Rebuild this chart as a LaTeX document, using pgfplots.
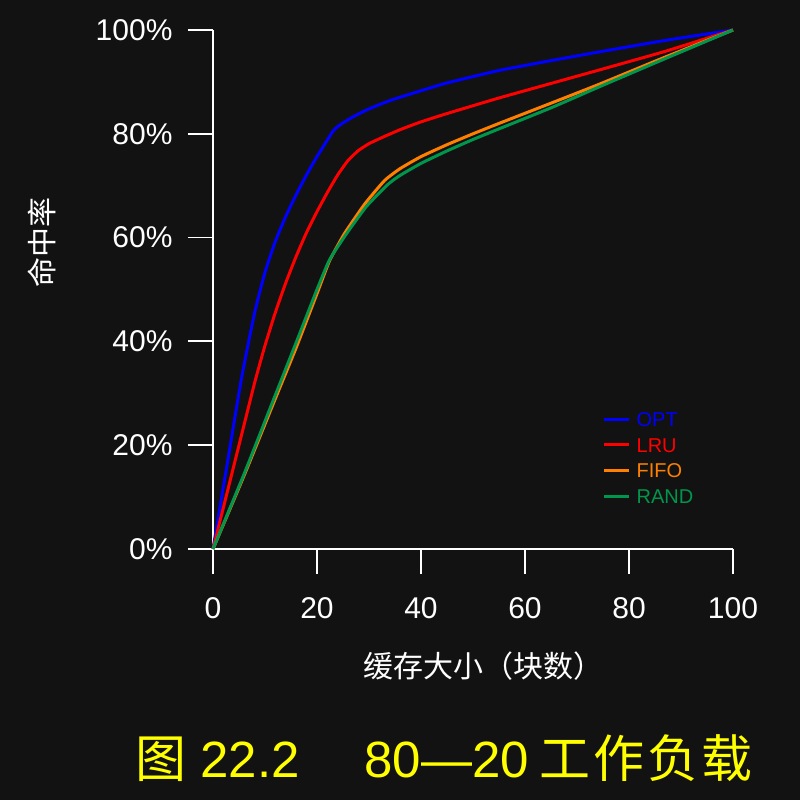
\documentclass[border=0pt]{standalone}
\usepackage{fontspec}
\setmainfont{Liberation Sans}
\newfontfamily\cjk{Noto Sans CJK SC}
\usepackage{pgfplots}
\pgfplotsset{compat=1.18}
\definecolor{bg}{RGB}{18,18,18}
\definecolor{optc}{RGB}{0,0,255}
\definecolor{lruc}{RGB}{255,0,0}
\definecolor{fifoc}{RGB}{255,128,0}
\definecolor{randc}{RGB}{0,150,75}
\definecolor{titc}{RGB}{255,255,0}
\begin{document}
\begin{tikzpicture}
\path[use as bounding box, fill=bg] (0,0) rectangle (800pt,800pt);
\begin{axis}[
  at={(213pt,251pt)}, anchor=south west,
  scale only axis, width=520pt, height=519pt,
  xmin=0, xmax=100, ymin=0, ymax=100,
  axis lines*=left,
  axis line style={white, line width=1.8pt},
  tick style={white, line width=1.8pt},
  tick align=outside, major tick length=25pt,
  xtick={0,20,...,100}, ytick={0,20,...,100},
  yticklabel={\pgfmathprintnumber{\tick}\%},
  /pgf/number format/assume math mode=true,
  tick label style={white, font=\fontsize{30}{30}\selectfont},
  xticklabel style={yshift=-20pt},
  yticklabel style={xshift=-12pt},
  xlabel={\cjk 缓存大小（块数）},
  xlabel style={at={(axis description cs:0.52,-0.2254)}, anchor=center, white, font=\fontsize{30}{30}\selectfont},
  ylabel={\cjk 命中率},
  ylabel style={at={(axis description cs:-0.3288,0.5896)}, anchor=center, white, font=\fontsize{30}{30}\selectfont},
  clip=false,
  legend style={at={(axis cs:74.8,26.43)}, anchor=north west, draw=none, fill=none, inner sep=0pt,
    font=\fontsize{20}{20}\selectfont, row sep=11.5pt,
    nodes={inner sep=0pt, text height=14.3pt, text depth=0pt},
    /tikz/every odd column/.append style={column sep=6.5pt}},
  legend cell align=left,
  legend image code/.code={\draw[#1, line width=3pt] (0pt,0pt) -- (25pt,0pt);},
]
\addplot[optc, line width=3pt, smooth, tension=0.3] coordinates {
(0,0) (3,18) (5.5,33) (8,45.5) (10,53.3) (12,59.3) (14,64.1) (16,68.3) (18,72.1) (20,75.6) (23,80.4) (24,81.4) (25,82.1) (27,83.3) (30,84.8) (34.3,86.5) (40,88.3) (45,89.8) (55,92.2) (65,94.1) (74.4,95.8) (87,98) (100,100)};
\addlegendentry{\textcolor{optc}{OPT}}
\addplot[lruc, line width=3pt, smooth, tension=0.3] coordinates {
(0,0) (4,16) (8,32) (10,39.2) (12,45.6) (14,51.3) (16,56.4) (18,61) (20,65) (22,68.7) (24,72.1) (26,74.9) (28,76.8) (30,78.1) (33,79.5) (36,80.8) (40,82.3) (45,83.9) (55,86.9) (65,89.7) (75,92.5) (87,95.9) (100,100)};
\addlegendentry{\textcolor{lruc}{LRU}}
\addplot[fifoc, line width=3pt, smooth, tension=0.3] coordinates {
(0,0) (6,14.2) (12,29) (16,38.8) (20,49.2) (22.4,55.5) (25.3,60.8) (29.2,66.5) (33,71) (36,73.3) (40,75.6) (45,77.9) (50,80) (55,82) (65,85.9) (74.4,89.6) (87,94.8) (100,100)};
\addlegendentry{\textcolor{fifoc}{FIFO}}
\addplot[randc, line width=3pt, smooth, tension=0.3] coordinates {
(0,0) (6,14.5) (12,29.7) (16,39.8) (20,50) (22.4,55.7) (25.5,60.5) (29.5,66) (33.7,70.3) (36,72) (40,74.3) (45,76.7) (50,78.9) (55,80.95) (65,85) (74.4,89.1) (87,94.5) (100,100)};
\addlegendentry{\textcolor{randc}{RAND}}
\end{axis}
\node[anchor=base west, inner sep=0pt, text=titc, font=\fontsize{51}{51}\selectfont] at (135pt,22pt) {\cjk 图\rmfamily\ 22.2\hspace{65pt}80—20\hspace{10pt}\cjk 工\hspace{3pt}作\hspace{3pt}负\hspace{3pt}载};
\end{tikzpicture}
\end{document}
